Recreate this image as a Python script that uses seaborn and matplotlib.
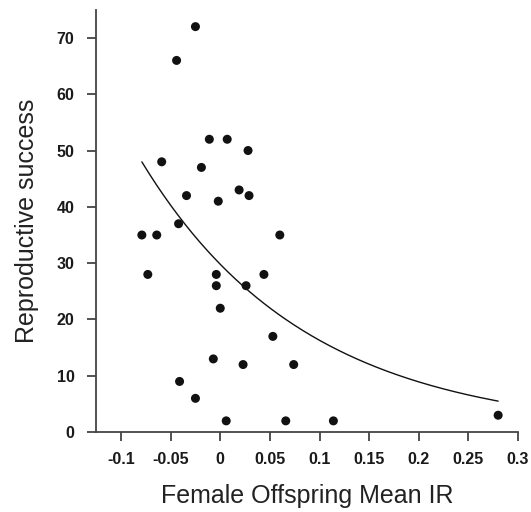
"""
Reproductive success vs female offspring mean IR.
"""

import matplotlib
matplotlib.use("Agg")
import matplotlib.pyplot as plt
import numpy as np
import pandas as pd
import seaborn as sns

# data
mean_ir = [
    -0.025, -0.044, -0.011, 0.007, 0.028, -0.059, -0.019, -0.034, -0.002,
    0.019, 0.029, -0.079, -0.064, -0.042, 0.060, -0.073, -0.004, -0.004,
    0.026, 0.044, 0.000, 0.053, -0.007, 0.023, 0.074, -0.041, -0.025,
    0.006, 0.066, 0.114, 0.280,
]
success = [
    72, 66, 52, 52, 50, 48, 47, 42, 41,
    43, 42, 35, 35, 37, 35, 28, 28, 26,
    26, 28, 22, 17, 13, 12, 12, 9, 6,
    2, 2, 2, 3,
]

# fitted exponential curve (log-link) coefficients
fit_intercept = np.log(29.8)
fit_slope = -6.03

x_ticks = [-0.1, -0.05, 0, 0.05, 0.1, 0.15, 0.2, 0.25, 0.3]
x_tick_labels = ["-0.1", "-0.05", "0", "0.05", "0.1", "0.15", "0.2", "0.25", "0.3"]
y_ticks = [0, 10, 20, 30, 40, 50, 60, 70]


def run_plot():
    sns.set_style("ticks")
    plt.rcParams["font.family"] = ["Liberation Sans", "DejaVu Sans"]

    df = pd.DataFrame({"ir": mean_ir, "rs": success})

    fig = plt.figure(figsize=(5.31, 5.12), dpi=100)
    ax = fig.add_axes([0.1808, 0.156, 0.7947, 0.825])

    sns.scatterplot(
        data=df,
        x="ir",
        y="rs",
        color="#111111",
        s=42,
        edgecolor="none",
        ax=ax,
        zorder=3
    )

    xs = np.linspace(min(mean_ir), max(mean_ir), 200)
    curve = pd.DataFrame({"ir": xs, "rs": np.exp(fit_intercept + fit_slope * xs)})
    sns.lineplot(
        data=curve,
        x="ir",
        y="rs",
        color="#111111",
        linewidth=1.0,
        ax=ax
    )

    ax.set_xlim(-0.1252, 0.3)
    ax.set_ylim(0, 75)
    ax.set_xticks(x_ticks)
    ax.set_xticklabels(x_tick_labels)
    ax.set_yticks(y_ticks)

    sns.despine(ax=ax)
    for side in ["left", "bottom"]:
        ax.spines[side].set_linewidth(1.3)
        ax.spines[side].set_color("#444444")

    ax.tick_params(
        axis="both",
        direction="out",
        length=6.5,
        width=1.3,
        color="#444444",
        labelsize=11.5,
        labelcolor="#1a1a1a"
    )
    ax.tick_params(axis="x", pad=8)
    ax.tick_params(axis="y", pad=9)
    for lab in ax.get_xticklabels() + ax.get_yticklabels():
        lab.set_fontweight("bold")

    ax.set_xlabel("Female Offspring Mean IR", fontsize=18, color="#222222", labelpad=12)
    ax.set_ylabel("Reproductive success", fontsize=18, color="#222222", labelpad=13)

    fig.savefig("out.png", dpi=100)


if __name__ == "__main__":
    run_plot()
